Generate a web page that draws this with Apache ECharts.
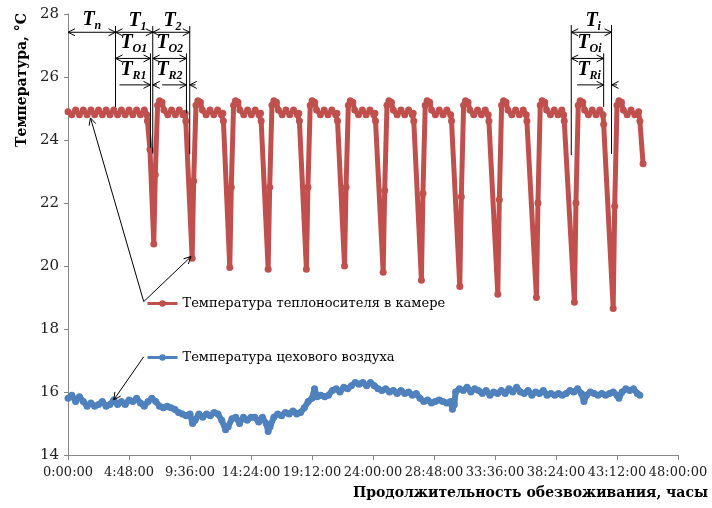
<!DOCTYPE html>
<html>
<head>
<meta charset="utf-8">
<script src="https://cdn.jsdelivr.net/npm/echarts@6/dist/echarts.min.js"></script>
<style>
  html, body { margin: 0; padding: 0; background: #fff; }
  #chart { width: 712px; height: 508px; }
</style>
</head>
<body>
<div id="chart"></div>
<script>
// часы от начала, °C
var chamberName = 'Температура теплоносителя в камере';
var airName = 'Температура цехового воздуха';

var chamberTemp = [
  [0,24.9],[0.3,24.8],[0.6,24.95],[0.9,24.8],[1.2,24.95],[1.5,24.8],[1.8,24.95],[2.1,24.8],[2.4,24.95],[2.7,24.8],
  [3.0,24.95],[3.3,24.8],[3.6,24.95],[3.9,24.8],[4.2,24.95],[4.5,24.8],[4.8,24.95],[5.1,24.8],[5.4,24.95],[5.7,24.8],
  [6.0,24.95],[6.2,24.8],[6.25,24.6],[6.45,23.7],[6.75,20.7],
  [6.87,22.9],[7.05,25.1],[7.2,25.25],[7.4,25.2],[7.55,24.95],[7.85,24.8],[8.15,24.95],[8.45,24.8],[8.75,24.95],[9.05,24.8],[9.22,24.85],[9.27,24.6],[9.77,20.25],
  [9.89,22.7],[10.07,25.1],[10.22,25.25],[10.42,25.2],[10.57,24.95],[10.87,24.8],[11.17,24.95],[11.47,24.8],[11.77,24.95],[12.07,24.8],[12.18,24.85],[12.23,24.6],[12.73,19.95],
  [12.85,22.5],[13.03,25.1],[13.18,25.25],[13.38,25.2],[13.53,24.95],[13.83,24.8],[14.13,24.95],[14.43,24.8],[14.73,24.95],[15.03,24.8],[15.15,24.85],[15.2,24.6],[15.75,19.9],
  [15.87,22.5],[16.05,25.1],[16.2,25.25],[16.4,25.2],[16.55,24.95],[16.85,24.8],[17.15,24.95],[17.45,24.8],[17.75,24.95],[18.05,24.8],[18.16,24.85],[18.21,24.6],[18.76,19.9],
  [18.88,22.5],[19.06,25.1],[19.21,25.25],[19.41,25.2],[19.56,24.95],[19.86,24.8],[20.16,24.95],[20.46,24.8],[20.76,24.95],[21.06,24.8],[21.16,24.85],[21.21,24.6],[21.76,20.0],
  [21.88,22.5],[22.06,25.1],[22.21,25.25],[22.41,25.2],[22.56,24.95],[22.86,24.8],[23.16,24.95],[23.46,24.8],[23.76,24.95],[24.06,24.8],[24.15,24.85],[24.2,24.6],[24.8,19.8],
  [24.92,22.4],[25.1,25.1],[25.25,25.25],[25.45,25.2],[25.6,24.95],[25.9,24.8],[26.2,24.95],[26.5,24.8],[26.8,24.95],[27.1,24.8],[27.16,24.85],[27.21,24.6],[27.81,19.55],
  [27.93,22.3],[28.11,25.1],[28.26,25.25],[28.46,25.2],[28.61,24.95],[28.91,24.8],[29.21,24.95],[29.51,24.8],[29.81,24.95],[30.11,24.8],[30.18,24.6],[30.83,19.35],
  [30.95,22.2],[31.13,25.1],[31.28,25.25],[31.48,25.2],[31.63,24.95],[31.93,24.8],[32.23,24.95],[32.53,24.8],[32.83,24.95],[33.07,24.8],[33.12,24.6],[33.82,19.1],
  [33.94,22.1],[34.12,25.1],[34.27,25.25],[34.47,25.2],[34.62,24.95],[34.92,24.8],[35.22,24.95],[35.52,24.8],[35.82,24.95],[36.06,24.8],[36.11,24.6],[36.86,19.0],
  [36.98,22.0],[37.16,25.1],[37.31,25.25],[37.51,25.2],[37.66,24.95],[37.96,24.8],[38.26,24.95],[38.56,24.8],[38.86,24.95],[39.0,24.8],[39.05,24.6],[39.85,18.85],
  [39.97,22.0],[40.15,25.1],[40.3,25.25],[40.5,25.2],[40.65,24.95],[40.95,24.8],[41.25,24.95],[41.55,24.8],[41.85,24.95],[42.1,24.8],[42.15,24.5],[42.9,18.65],
  [43.02,21.9],[43.2,25.1],[43.35,25.25],[43.55,25.2],[43.7,24.95],[44.0,24.8],[44.3,24.95],[44.6,24.8],[44.9,24.9],[45.0,24.6],[45.25,23.25]
];

var airTemp = [
  [0.0,15.8],[0.3,15.9],[0.6,15.7],[0.9,15.85],[1.2,15.7],[1.5,15.55],[1.8,15.65],[2.1,15.55],[2.4,15.6],[2.7,15.7],
  [3.0,15.55],[3.3,15.6],[3.6,15.75],[3.9,15.6],[4.2,15.7],[4.5,15.6],[4.8,15.75],[5.1,15.7],[5.4,15.8],[5.7,15.65],
  [6.0,15.55],[6.3,15.7],[6.6,15.8],[6.9,15.7],[7.2,15.55],[7.5,15.5],[7.8,15.55],[8.1,15.5],[8.4,15.45],[8.7,15.35],
  [9.0,15.3],[9.3,15.25],[9.6,15.3],[9.8,15.0],[10.0,15.1],[10.3,15.3],[10.6,15.2],[10.9,15.3],[11.2,15.25],[11.5,15.35],
  [11.8,15.3],[12.1,15.1],[12.4,14.8],[12.6,14.9],[12.9,15.15],[13.2,15.2],[13.5,15.0],[13.8,15.2],[14.1,15.1],[14.4,15.2],
  [14.7,15.2],[15.0,15.05],[15.3,15.2],[15.6,15.0],[15.75,14.75],[15.9,14.9],[16.2,15.2],[16.5,15.3],[16.8,15.25],[17.1,15.35],
  [17.4,15.3],[17.7,15.4],[18.0,15.3],[18.3,15.35],[18.6,15.5],[18.9,15.7],[19.2,15.8],[19.4,16.1],[19.6,15.85],[19.9,15.9],
  [20.2,15.85],[20.5,15.9],[20.8,16.05],[21.1,16.1],[21.4,16.0],[21.7,16.15],[22.0,16.1],[22.3,16.2],[22.6,16.3],[22.9,16.25],
  [23.2,16.3],[23.5,16.2],[23.8,16.3],[24.1,16.2],[24.4,16.1],[24.7,16.05],[25.0,16.1],[25.3,16.0],[25.6,16.05],[25.9,15.95],
  [26.2,16.05],[26.5,15.95],[26.8,16.0],[27.1,15.9],[27.4,15.95],[27.7,15.8],[28.0,15.7],[28.3,15.75],[28.6,15.65],[28.9,15.7],
  [29.2,15.75],[29.5,15.7],[29.8,15.65],[30.1,15.7],[30.25,15.45],[30.4,15.6],[30.5,16.0],[30.8,16.1],[31.1,16.05],[31.4,16.15],
  [31.7,16.0],[32.0,16.1],[32.3,16.05],[32.6,15.95],[32.9,16.05],[33.2,15.9],[33.5,16.0],[33.8,15.95],[34.1,16.05],[34.4,15.95],
  [34.7,16.1],[35.0,16.0],[35.3,16.15],[35.6,16.0],[35.9,15.95],[36.2,16.05],[36.5,15.9],[36.8,16.0],[37.1,15.95],[37.4,16.05],
  [37.7,15.9],[38.0,15.95],[38.3,15.9],[38.6,15.95],[38.9,15.9],[39.2,15.95],[39.5,16.05],[39.8,16.0],[40.1,16.1],[40.4,15.95],
  [40.6,15.7],[40.8,15.9],[41.1,16.0],[41.4,15.95],[41.7,15.9],[42.0,15.95],[42.3,15.9],[42.6,15.95],[42.9,16.0],[43.2,15.9],
  [43.35,15.8],[43.6,16.0],[43.9,16.1],[44.2,16.05],[44.5,16.1],[44.8,15.95],[45.0,15.9]
];

// оси
var xMin = 0, xMax = 48, xStep = 4.8;
var yMin = 14, yMax = 28, yStep = 2;

// размерные линии: [начало, конец, температура, стрелка слева, стрелка справа]
var dimLines = [
  [0, 3.74, 27.42, 1, 1], [3.74, 6.67, 27.42, 1, 1], [6.67, 9.58, 27.42, 1, 1], [39.6, 42.77, 27.42, 1, 1],
  [3.74, 6.49, 26.59, 1, 1], [6.67, 9.32, 26.59, 1, 1], [39.6, 42.15, 26.59, 1, 1],
  [4.05, 6.49, 25.75, 0, 1], [6.67, 7.0, 25.75, 1, 0], [7.41, 9.32, 25.75, 0, 1], [9.58, 10.03, 25.75, 1, 0],
  [40.06, 42.15, 25.75, 0, 1], [42.77, 43.2, 25.75, 1, 0]
];
// выносные линии: [время, верх, низ]
var extLines = [
  [3.74, 27.62, 25.05], [6.49, 26.75, 23.75], [6.67, 27.62, 23.57], [9.32, 26.75, 24.85],
  [9.58, 27.62, 23.55], [39.6, 27.65, 23.52], [42.15, 26.75, 25.05], [42.77, 27.65, 23.56]
];
// подписи интервалов: [время, температура, индекс]
var dimLabels = [
  [1.14, 27.81, 'n'], [4.76, 27.78, '1'], [7.51, 27.78, '2'],
  [4.13, 27.08, 'O1'], [6.96, 27.08, 'O2'], [4.13, 26.22, 'R1'], [6.96, 26.22, 'R2'],
  [40.72, 27.78, 'i'], [40.09, 27.08, 'Oi'], [40.09, 26.22, 'Ri']
];
// выноски от легенды: [от, к]
var pointers = [
  [[5.96, 18.87], [1.77, 24.7]],
  [[5.96, 18.87], [9.68, 20.3]],
  [[5.96, 17.12], [3.6, 15.75]]
];

var chart = echarts.init(document.getElementById('chart'));

function fmtTime(v) {
  var m = Math.round(v * 60);
  var mm = m % 60;
  return Math.floor(m / 60) + ':' + (mm < 10 ? '0' : '') + mm + ':00';
}

var serif = 'DejaVu Serif';
var legendBase = {
  orient: 'horizontal',
  left: 141,
  itemWidth: 30,
  itemHeight: 8,
  lineStyle: { width: 3 },
  textStyle: { fontFamily: serif, fontSize: 13, color: '#000' },
  selectedMode: false
};

var option = {
  backgroundColor: '#ffffff',
  animation: false,
  grid: { left: 68, right: 34, top: 14, bottom: 53 },
  legend: [
    Object.assign({ data: [chamberName], top: 292 }, legendBase),
    Object.assign({ data: [airName], top: 346 }, legendBase)
  ],
  xAxis: {
    type: 'value',
    min: xMin, max: xMax, interval: xStep,
    axisLine: { lineStyle: { color: '#868686' } },
    axisTick: { show: true, length: 5, lineStyle: { color: '#868686' } },
    splitLine: { show: false },
    axisLabel: {
      margin: 11,
      fontFamily: serif, fontSize: 13, color: '#222',
      formatter: fmtTime
    }
  },
  yAxis: {
    type: 'value',
    min: yMin, max: yMax, interval: yStep,
    axisLine: { show: true, lineStyle: { color: '#868686' } },
    axisTick: { show: true, length: 4, lineStyle: { color: '#868686' } },
    splitLine: { show: false },
    axisLabel: { margin: 9, fontFamily: serif, fontSize: 15, color: '#222' }
  },
  series: [
    {
      name: chamberName,
      type: 'line',
      data: chamberTemp,
      symbol: 'circle',
      symbolSize: 7,
      lineStyle: { width: 5, color: '#C0504D' },
      itemStyle: { color: '#C0504D' },
      z: 3
    },
    {
      name: airName,
      type: 'line',
      data: airTemp,
      symbol: 'circle',
      symbolSize: 7,
      lineStyle: { width: 6, color: '#4F81BD' },
      itemStyle: { color: '#4F81BD' },
      z: 2
    }
  ]
};
chart.setOption(option);

function px(p) {
  return chart.convertToPixel({ gridIndex: 0 }, p);
}
function head(tip, from) {
  var dx = tip[0] - from[0], dy = tip[1] - from[1];
  var len = Math.sqrt(dx * dx + dy * dy);
  dx /= len; dy /= len;
  var L = 7, W = 3.5;
  return {
    type: 'polyline', silent: true, z: 10,
    shape: { points: [[tip[0] - dx * L - dy * W, tip[1] - dy * L + dx * W], tip, [tip[0] - dx * L + dy * W, tip[1] - dy * L - dx * W]] },
    style: { stroke: '#000', fill: null, lineWidth: 1 }
  };
}
function seg(a, b) {
  return {
    type: 'line', silent: true, z: 10,
    shape: { x1: a[0], y1: a[1], x2: b[0], y2: b[1] },
    style: { stroke: '#000', lineWidth: 1 }
  };
}

var g = [];
dimLines.forEach(function (d) {
  var a = px([d[0], d[2]]), b = px([d[1], d[2]]);
  g.push(seg(a, b));
  if (d[3]) g.push(head(a, b));
  if (d[4]) g.push(head(b, a));
});
extLines.forEach(function (e) {
  g.push(seg(px([e[0], e[1]]), px([e[0], e[2]])));
});
pointers.forEach(function (p) {
  var a = px(p[0]), b = px(p[1]);
  g.push(seg(a, b));
  g.push(head(b, a));
});
dimLabels.forEach(function (l) {
  var p = px([l[0], l[1]]);
  g.push({
    type: 'text', silent: true, z: 11, x: p[0], y: p[1],
    style: { text: 'T', fontFamily: 'Liberation Serif', fontStyle: 'italic', fontWeight: 'bold', fontSize: 20, fill: '#000', align: 'left', verticalAlign: 'middle' }
  });
  g.push({
    type: 'text', silent: true, z: 11, x: p[0] + 12, y: p[1] + 6,
    style: { text: l[2], fontFamily: 'Liberation Serif', fontStyle: 'italic', fontWeight: 'bold', fontSize: 12, fill: '#000', align: 'left', verticalAlign: 'middle' }
  });
});
// названия осей
g.push({
  type: 'text', silent: true, x: 22, y: 80, rotation: Math.PI / 2,
  style: { text: 'Температура, °С', fontFamily: serif, fontWeight: 'bold', fontSize: 14, fill: '#000', align: 'center', verticalAlign: 'middle' }
});
g.push({
  type: 'text', silent: true, x: 708, y: 493,
  style: { text: 'Продолжительность обезвоживания, часы', fontFamily: serif, fontWeight: 'bold', fontSize: 14, fill: '#000', align: 'right', verticalAlign: 'middle' }
});
chart.setOption({ graphic: g });

window.addEventListener('resize', function () {
  chart.resize();
});
</script>
</body>
</html>
